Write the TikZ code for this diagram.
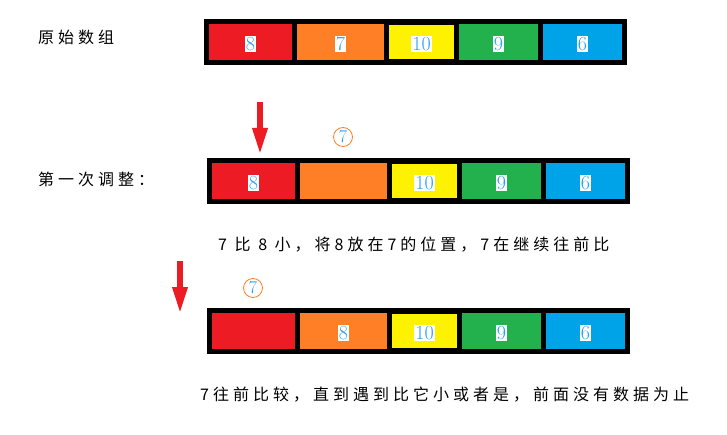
\documentclass[tikz,border=0pt]{standalone}
\usepackage{fontspec}
\newfontfamily\cjk[LetterSpace=25]{Noto Sans CJK SC}
\usetikzlibrary{arrows.meta}
\definecolor{cred}{RGB}{237,28,36}
\definecolor{corange}{RGB}{255,127,39}
\definecolor{cyellow}{RGB}{255,242,0}
\definecolor{cgreen}{RGB}{34,177,76}
\definecolor{cblue}{RGB}{0,162,232}
\definecolor{numblue}{RGB}{40,160,235}
\begin{document}
\begin{tikzpicture}[x=1pt,y=-1pt,
				frame/.style={fill=black, inner sep=0pt, minimum width=423pt, minimum height=46pt},
				cell/.style={inner sep=0pt},
				num/.style={fill=white, text=numblue, inner xsep=1pt, inner ysep=1.2pt,
					font=\fontsize{20}{20}\selectfont, text height=13.5pt, text depth=0pt, yshift=-2pt},
				moved/.style={circle, draw=corange, line width=0.8pt, inner sep=0pt, minimum size=19pt,
					text=numblue, font=\fontsize{18}{18}\selectfont},
				pointer/.style={draw=cred, line width=6pt, -{Triangle[width=14pt,length=27pt]}},
				note/.style={anchor=west, inner sep=0pt, font=\cjk\fontsize{16}{16}\selectfont}
				]
			\useasboundingbox (0,0) rectangle (727,435);
			% three rows of the array
			\node [frame] (f1) at (415.5,42) {};
			\node [frame] (f2) at (418.5,181) {};
			\node [frame] (f3) at (418.5,331) {};
			\foreach \r/\dx/\y in {1/0/42, 2/3/181, 3/3/331}{
				\foreach \c/\cx/\w/\h/\col in {1/250.5/83/36/cred, 2/340.5/87/36/corange,
					3/421.5/65/34/cyellow, 4/498.5/79/36/cgreen, 5/582.5/79/36/cblue}{
					\node [cell, fill=\col, minimum width=\w pt, minimum height=\h pt]
						(c\r-\c) at ({\cx+\dx},\y) {};
				}
			}
			% numbers
			\node [num] at (c1-1) {8};
			\node [num] at (c1-2) {7};
			\node [num] at (c1-3) {10};
			\node [num] at (c1-4) {9};
			\node [num] at (c1-5) {6};
			\node [num] at (c2-1) {8};
			\node [num] at (c2-3) {10};
			\node [num] at (c2-4) {9};
			\node [num] at (c2-5) {6};
			\node [num] at (c3-2) {8};
			\node [num] at (c3-3) {10};
			\node [num] at (c3-4) {9};
			\node [num] at (c3-5) {6};
			% the moving 7
			\node [moved] (m1) at (343,137) {7};
			\node [moved] (m2) at (253,288) {7};
			% pointers
			\coordinate (p1top) at (260,102);
			\coordinate (p1tip) at (260,155);
			\coordinate (p2top) at (180,261);
			\coordinate (p2tip) at (180,314);
			\draw [pointer] (p1top) -- (p1tip);
			\draw [pointer] (p2top) -- (p2tip);
			% texts
			\node [note] (t1) at (38,37) {原始数组};
			\node [note] (t2) at (38,179) {第一次调整：};
			\node [note] (t3) at (218,245) {7 比 8 小，将8放在7的位置，7在继续往前比};
			\node [note] (t4) at (200,395) {7往前比较，直到遇到比它小或者是，前面没有数据为止};
\end{tikzpicture}
\end{document}
